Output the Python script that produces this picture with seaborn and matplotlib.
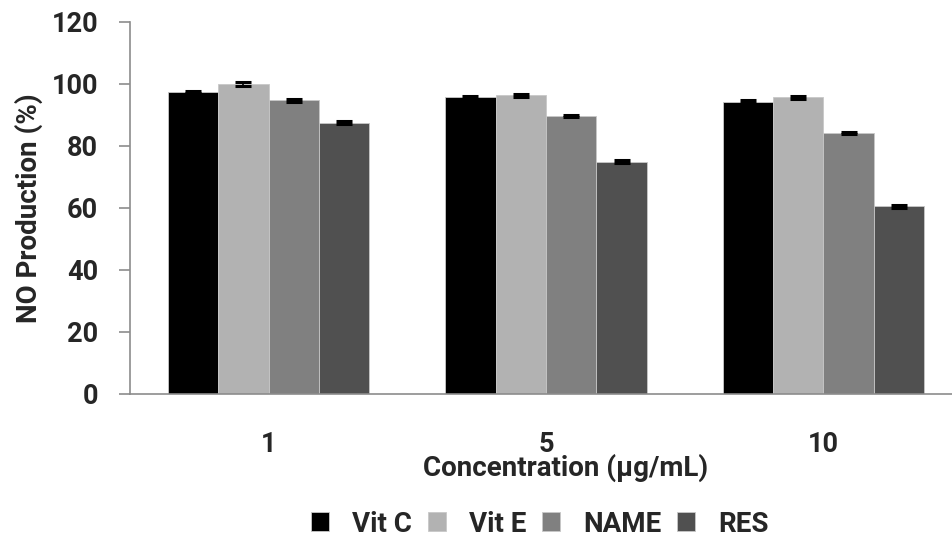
import numpy as np
import pandas as pd
import matplotlib
matplotlib.use("Agg")
import matplotlib.pyplot as plt
import seaborn as sns

# ---- data ----
concentrations = ["1", "5", "10"]
treatments = ["Vit C", "Vit E", "NAME", "RES"]
vit_c = [97.5, 95.7, 94.3]
vit_e = [100.0, 96.4, 95.7]
name_ = [94.7, 89.6, 84.2]
res = [87.5, 75.0, 60.5]
err_vit_c = [0.4, 0.4, 0.4]
err_vit_e = [0.5, 0.5, 0.5]
err_name = [0.4, 0.4, 0.4]
err_res = [0.5, 0.5, 0.5]
colors = ["#000000", "#b2b2b2", "#808080", "#505050"]
y_ticks = [0, 20, 40, 60, 80, 100, 120]

values = {"Vit C": vit_c, "Vit E": vit_e, "NAME": name_, "RES": res}
errors = {"Vit C": err_vit_c, "Vit E": err_vit_e, "NAME": err_name, "RES": err_res}

rows = []
for t in treatments:
    for c, v, e in zip(concentrations, values[t], errors[t]):
        rows.append({"Concentration": c, "Treatment": t, "Value": v, "Err": e})
df = pd.DataFrame(rows)

sns.set_theme(style="white")
plt.rcParams["font.family"] = ["Roboto", "DejaVu Sans"]
plt.rcParams["font.weight"] = "bold"

fig = plt.figure(figsize=(9.53, 5.40), dpi=100)
W, H = 953, 540
left, right, top, bottom = 130, 962, 22, 394
ax = fig.add_axes([left / W, 1 - bottom / H, (right - left) / W, (bottom - top) / H])

sns.barplot(data=df, x="Concentration", y="Value", hue="Treatment",
            order=concentrations, hue_order=treatments, palette=colors,
            width=0.727, gap=0, errorbar=None, edgecolor="#c8c8c8",
            linewidth=0.6, ax=ax, legend=True)

# error bars on each bar
for cont, t in zip(ax.containers, treatments):
    xs = [p.get_x() + p.get_width() / 2 for p in cont.patches]
    ys = [p.get_height() for p in cont.patches]
    ax.errorbar(xs, ys, yerr=errors[t], fmt="none", ecolor="black",
                elinewidth=1.2, capsize=6, capthick=2.2, zorder=5)

ax.set_ylim(0, 120)
ax.set_yticks(y_ticks)
ax.set_xlim(-0.5, 2.5)

for s in ["top", "right"]:
    ax.spines[s].set_visible(False)
for s in ["left", "bottom"]:
    ax.spines[s].set_color("#8c8c8c")
    ax.spines[s].set_linewidth(1.2)

FS_T = 19.5
FS_L = 20
ax.tick_params(axis="y", which="major", left=True, direction="out", length=8,
               width=1.2, color="#8c8c8c", pad=15, labelsize=FS_T)
ax.tick_params(axis="x", bottom=False, pad=21, labelsize=FS_T)
for lab in ax.get_xticklabels() + ax.get_yticklabels():
    lab.set_fontweight("bold")

ax.set_ylabel("NO Production (%)", fontsize=FS_L, fontweight="bold")
ax.yaxis.set_label_coords(-0.122, 0.5)
ax.yaxis.label.set_va("center")
ax.set_xlabel("Concentration (µg/mL)", fontsize=FS_L, fontweight="bold")
ax.xaxis.set_label_coords(0.523, -0.198)
ax.xaxis.label.set_va("center")

handles, labels = ax.get_legend_handles_labels()
ax.get_legend().remove()
fig.legend(handles, labels, loc="center", ncol=4,
           bbox_to_anchor=(540 / W, 1 - 524 / H), frameon=False,
           prop={"size": FS_L, "weight": "bold"},
           handlelength=0.65, handleheight=0.65, handletextpad=0.85,
           columnspacing=0.55)

fig.savefig("out.png", dpi=100)
